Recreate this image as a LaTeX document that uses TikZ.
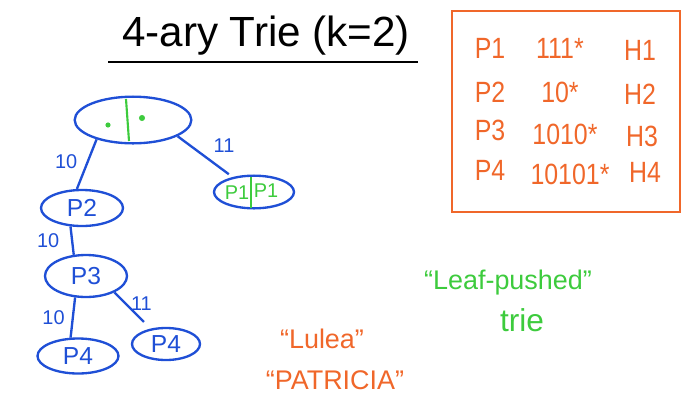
\documentclass[tikz,border=0pt]{standalone}
\usepackage{fontspec}
\setmainfont{Liberation Sans}
\usetikzlibrary{shapes.geometric}
\definecolor{penblue}{HTML}{1F4FD6}
\definecolor{pengreen}{HTML}{3DCB3D}
\definecolor{penorange}{HTML}{F0672A}
\tikzset{
  trienode/.style={ellipse, draw=penblue, line width=2pt, inner sep=0pt, text=penblue, font=\fontsize{21}{22}\selectfont},
  edgeline/.style={draw=penblue, line width=2pt},
  edgelabel/.style={text=penblue, font=\fontsize{17}{18}\selectfont, inner sep=1pt},
  tabtext/.style={text=penorange, font=\fontsize{25}{26}\selectfont, xscale=0.85, transform shape},
  greentext/.style={text=pengreen, font=\fontsize{23}{26}\selectfont},
  orangetext/.style={text=penorange, font=\fontsize{23}{26}\selectfont}
}
\begin{document}
\begin{tikzpicture}[x=0.03cm,y=-0.03cm]
\useasboundingbox (0,0) rectangle (697,415);
% title
\node[font=\fontsize{36}{38}\selectfont] (title) at (266,36) {4-ary Trie (k=2)};
\coordinate (ul1) at (108,62);
\coordinate (ul2) at (418,62);
\draw[line width=2pt] (ul1) -- (ul2);
% table
\coordinate (boxa) at (452,11);
\coordinate (boxb) at (680,212);
\draw[penorange, line width=1.8pt] (boxa) rectangle (boxb);
\node[tabtext] (p1a) at (490,48) {P1};
\node[tabtext] (p1b) at (560,48) {111*};
\node[tabtext] (p1c) at (640,50) {H1};
\node[tabtext] (p2a) at (490,92) {P2};
\node[tabtext] (p2b) at (560,92) {10*};
\node[tabtext] (p2c) at (640,94) {H2};
\node[tabtext] (p3a) at (490,130) {P3};
\node[tabtext] (p3b) at (565,134) {1010*};
\node[tabtext] (p3c) at (642,136) {H3};
\node[tabtext] (p4a) at (490,170) {P4};
\node[tabtext] (p4b) at (570,174) {10101*};
\node[tabtext] (p4c) at (645,172) {H4};
% trie
\node[trienode, minimum width=3.5cm, minimum height=1.4cm] (root) at (133,120) {};
\draw[pengreen, line width=1.8pt] (126,99) -- (129,141);
\fill[pengreen] (108,125) circle (2.2pt);
\fill[pengreen] (142,118) circle (2.6pt);
\node[trienode, minimum width=2.4cm, minimum height=0.98cm] (pp) at (254,192) {};
\draw[pengreen, line width=1.8pt] (251,177) -- (251,208);
\node[text=pengreen, font=\fontsize{17}{18}\selectfont] (ppl) at (237,193) {P1};
\node[text=pengreen, font=\fontsize{17}{18}\selectfont] (ppr) at (266,191) {P1};
\node[trienode, minimum width=2.46cm, minimum height=1.08cm] (n2) at (82,208) {P2};
\node[trienode, minimum width=2.46cm, minimum height=1.26cm] (n3) at (86,276) {P3};
\node[trienode, minimum width=2.43cm, minimum height=1.05cm] (n4a) at (78,356) {P4};
\node[trienode, minimum width=2.04cm, minimum height=0.96cm] (n4b) at (166,344) {P4};
\draw[edgeline] (root.208) -- node[edgelabel, left=7pt, pos=0.45] {10} (n2.105);
\draw[edgeline, shorten >=4pt] (root.340) -- node[edgelabel, above right=3pt, pos=0.55] {11} (pp.145);
\draw[edgeline] (n2.238) -- node[edgelabel, left=9pt] {10} (n3.120);
\draw[edgeline] (n3.243) -- node[edgelabel, left=5pt] {10} (n4a.112);
\draw[edgeline, shorten >=8pt] (n3.330) -- node[edgelabel, right=3pt, pos=0.3] {11} (n4b.135);
% notes
\node[orangetext] (lulea) at (322,339) {“Lulea”};
\node[orangetext] (patricia) at (335,380) {“PATRICIA”};
\node[greentext] (leaf) at (508,283) {“Leaf-pushed”};
\node[text=pengreen, font=\fontsize{27}{28}\selectfont] (trie) at (522,320) {trie};
\end{tikzpicture}
\end{document}
